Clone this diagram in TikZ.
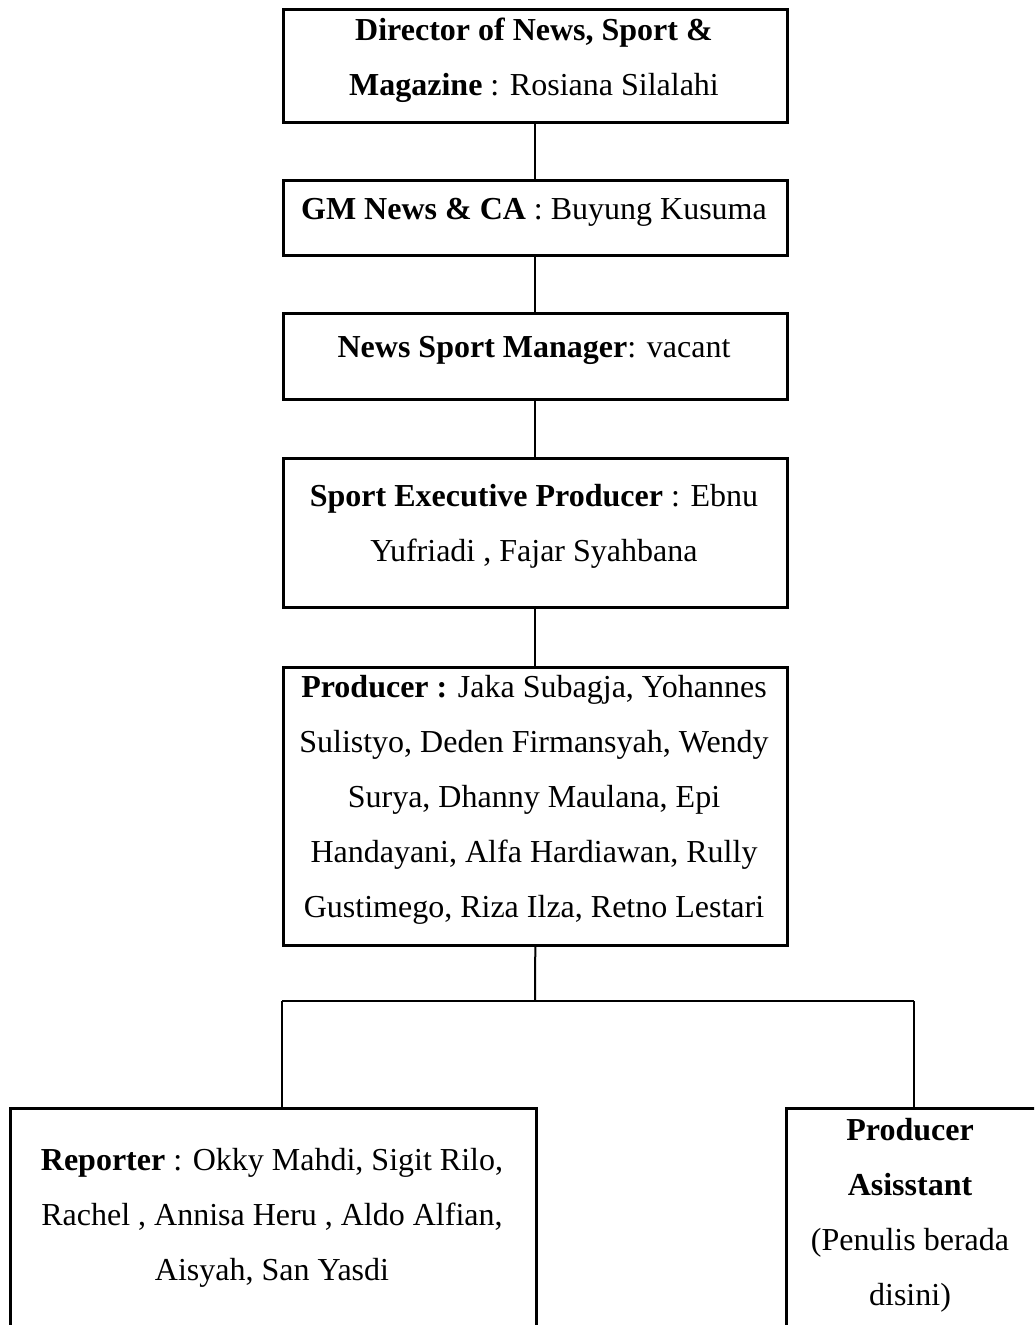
\documentclass[tikz,border=0pt]{standalone}
\usepackage{fontspec}
\setmainfont{Liberation Serif}

\begin{document}
\begin{tikzpicture}[x=1pt,y=-1pt,line width=2pt,
  frame/.style={draw,line width=2.6pt,inner sep=0pt,anchor=north west},
  txt/.style={align=center,inner sep=0pt,font=\fontsize{32}{55}\selectfont}]
  \useasboundingbox (0,0) rectangle (1034,1325);
  \clip (0,0) rectangle (1034,1325);
  % ============ boxes ============
  % director
  \node[frame,minimum width=504,minimum height=113] (dir) at (282,8) {};
  \node[txt] (dirtxt) at (534,60) {\textbf{Director of News, Sport \&}\\\textbf{Magazine} : Rosiana Silalahi};
  % general manager
  \node[frame,minimum width=504,minimum height=75] (gm) at (282,179) {};
  \node[txt] (gmtxt) at (534,212) {\textbf{GM News \& CA} : Buyung Kusuma};
  % manager
  \node[frame,minimum width=504,minimum height=86] (mgr) at (282,312) {};
  \node[txt] (mgrtxt) at (534,350) {\textbf{News Sport Manager}: vacant};
  % executive producer
  \node[frame,minimum width=504,minimum height=149] (exec) at (282,457) {};
  \node[txt] (exectxt) at (534,526) {\textbf{Sport Executive Producer} : Ebnu\\Yufriadi , Fajar Syahbana};
  % producer
  \node[frame,minimum width=504,minimum height=278] (prod) at (282,666) {};
  \node[txt] (prodtxt) at (534,800) {\textbf{Producer :} Jaka Subagja, Yohannes\\Sulistyo, Deden Firmansyah, Wendy\\Surya, Dhanny Maulana, Epi\\Handayani, Alfa Hardiawan, Rully\\Gustimego, Riza Ilza, Retno Lestari};
  % reporter
  \node[frame,minimum width=526,minimum height=240] (rep) at (9,1107) {};
  \node[txt] (reptxt) at (272,1218) {\textbf{Reporter} : Okky Mahdi, Sigit Rilo,\\Rachel , Annisa Heru , Aldo Alfian,\\Aisyah, San Yasdi};
  % producer assistant
  \node[frame,minimum width=270,minimum height=240] (asst) at (785,1107) {};
  \node[txt] (assttxt) at (910,1215) {\textbf{Producer}\\\textbf{Asisstant}\\(Penulis berada\\disini)};
  % ============ connectors ============
  \coordinate (fork) at (535,1001);
  \coordinate (forkL) at (282,1001);
  \coordinate (forkR) at (914,1001);
  \draw (dir.south) -- (gm.north);
  \draw (gm.south) -- (mgr.north);
  \draw (mgr.south) -- (exec.north);
  \draw (exec.south) -- (prod.north);
  \draw (prod.south) -- (fork);
  \draw (forkL) -- (forkR);
  \draw (forkL) -- (forkL |- rep.north);
  \draw (forkR) -- (forkR |- asst.north);
\end{tikzpicture}
\end{document}
